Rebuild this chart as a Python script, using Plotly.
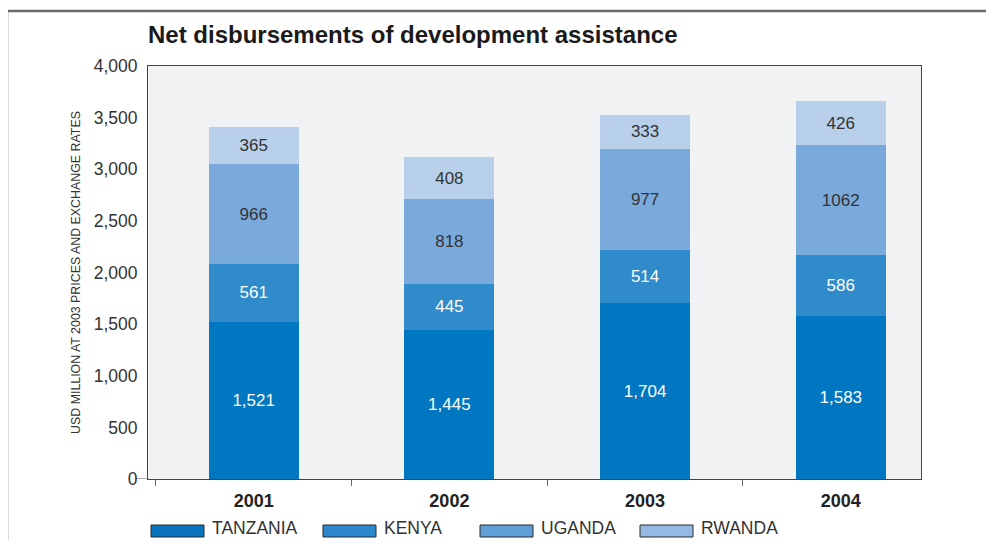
import plotly.graph_objects as go

years = ["2001", "2002", "2003", "2004"]
series_names = ["TANZANIA", "KENYA", "UGANDA", "RWANDA"]
tanzania = [1521, 1445, 1704, 1583]
kenya = [561, 445, 514, 586]
uganda = [966, 818, 977, 1062]
rwanda = [365, 408, 333, 426]
tanzania_labels = ["1,521", "1,445", "1,704", "1,583"]
kenya_labels = ["561", "445", "514", "586"]
uganda_labels = ["966", "818", "977", "1062"]
rwanda_labels = ["365", "408", "333", "426"]
y_ticks = [0, 500, 1000, 1500, 2000, 2500, 3000, 3500, 4000]

values = [tanzania, kenya, uganda, rwanda]
labels = [tanzania_labels, kenya_labels, uganda_labels, rwanda_labels]
colors = ["#0077c0", "#2f8bca", "#79aadb", "#b9d0ea"]
legend_colors = ["#0a75be", "#2b88cc", "#5e9fd8", "#94b9e2"]
text_colors = ["#ffffff", "#ffffff", "#333333", "#333333"]

# the page body has an 8px margin; work in screen pixels and shift
OFF = 8
W, H = 994 - 2 * OFF, 548 - 2 * OFF
L, R, T, B = 148, 921, 66, 479  # screen pixels of plot area
FONT = "Liberation Sans"

def px(x):
    return (x - L) / (R - L)

def py(y):
    return (B - y) / (B - T)

fig = go.Figure()
for name, vals, labs, col, tcol in zip(series_names, values, labels, colors, text_colors):
    fig.add_trace(go.Bar(
        x=years, y=vals, name=name, text=labs,
        textposition="inside", insidetextanchor="middle",
        textfont=dict(family=FONT, size=17, color=tcol),
        marker=dict(color=col, line=dict(width=0)),
        width=0.46, showlegend=False, hoverinfo="x+y+name",
    ))

shapes = []
annotations = []
# outer frame
shapes.append(dict(type="path", xref="paper", yref="paper",
                   path=f"M {px(7)},{py(560)} L {px(7)},{py(11)} L {px(1000)},{py(11)}",
                   line=dict(color="#6b6b6b", width=2.5)))
# zero tick on y
shapes.append(dict(type="line", xref="paper", yref="y", x0=px(135), x1=0, y0=0, y1=0,
                   line=dict(color="#555555", width=1)))

# legend
sw_x = [151, 323, 480, 640]
sw_w = 53
bottom = H + OFF  # screen y of the figure's bottom edge
for i, (name, col) in enumerate(zip(series_names, legend_colors)):
    shapes.append(dict(type="rect", xref="paper", yref="paper",
                       x0=px(sw_x[i]), x1=px(sw_x[i] + sw_w), y0=py(537), y1=py(525),
                       fillcolor=col, line=dict(color="#2a2a2a", width=1)))
    annotations.append(dict(xref="paper", yref="paper", x=px(sw_x[i] + sw_w + 6), y=py(bottom),
                            text=name, showarrow=False, xanchor="left", yanchor="bottom",
                            font=dict(family=FONT, size=17.5, color="#333333")))

fig.update_layout(
    width=W, height=H,
    margin=dict(l=L - OFF, r=W - (R - OFF), t=T - OFF, b=H - (B - OFF), autoexpand=False),
    barmode="stack",
    paper_bgcolor="white",
    plot_bgcolor="#f1f2f4",
    title=dict(text="<b>Net disbursements of development assistance</b>",
               x=px(148), xref="paper", xanchor="left", y=1 - (35 - OFF) / H, yanchor="middle",
               font=dict(family=FONT, size=24, color="#1a1a1a")),
    font=dict(family=FONT, color="#333333"),
    shapes=shapes,
    annotations=annotations,
)
fig.update_xaxes(
    type="category", range=[-0.54, 3.41],
    showline=True, linecolor="#444444", linewidth=1, mirror=True,
    ticks="outside", tickson="boundaries", ticklen=6, tickcolor="#666666",
    tickfont=dict(family=FONT, size=18, color="#222222", weight="bold"),
    ticklabelstandoff=5,
    showgrid=False,
)
fig.update_yaxes(
    range=[0, 4000], tickvals=y_ticks, tickformat=",",
    showline=True, linecolor="#444444", linewidth=1, mirror=True,
    ticks="", showgrid=False, zeroline=False,
    tickfont=dict(family=FONT, size=17.5, color="#333333"),
    ticklabelstandoff=6,
    title=dict(text="USD MILLION AT 2003 PRICES AND EXCHANGE RATES",
               font=dict(family=FONT, size=12.4, color="#333333"), standoff=10),
)

fig.write_html("out.html")
